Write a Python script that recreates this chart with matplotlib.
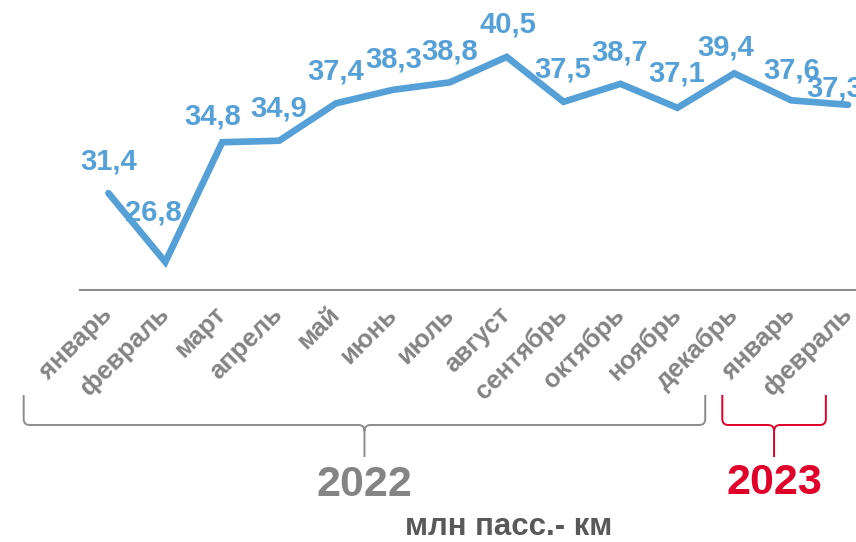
import matplotlib
matplotlib.use("Agg")
import matplotlib.pyplot as plt
from matplotlib.path import Path
from matplotlib.patches import PathPatch
from matplotlib.transforms import blended_transform_factory

plt.rcParams['font.family'] = ['Liberation Sans', 'DejaVu Sans']

months = ["январь", "февраль", "март", "апрель", "май", "июнь", "июль",
          "август", "сентябрь", "октябрь", "ноябрь", "декабрь",
          "январь", "февраль"]
values = [31.4, 26.8, 34.8, 34.9, 37.4, 38.3, 38.8, 40.5, 37.5, 38.7,
          37.1, 39.4, 37.6, 37.3]
labels = ["31,4", "26,8", "34,8", "34,9", "37,4", "38,3", "38,8", "40,5",
          "37,5", "38,7", "37,1", "39,4", "37,6", "37,3"]
years = ["2022", "2023"]
unit = "млн пасс.- км"

# label offsets in pixels (dx, dy)
offsets = [(0, 24), (-12, 42), (-10, 18), (0, 24), (0, 24), (1, 22), (0, 23),
           (1, 24), (-1, 24), (-1, 23), (-1, 26), (-9, 18), (0, 22), (-13, 8)]

BLUE = "#56A0D8"
GRAY = "#848484"
RED = "#E0002A"

W, H = 856, 542
fig = plt.figure(figsize=(W / 100, H / 100), dpi=100)
ax = fig.add_axes([80 / W, (H - 290) / H, (W - 80) / W, 290 / H])

x = list(range(len(values)))
ax.plot(x, values, color=BLUE, lw=4.8, solid_capstyle='round',
        solid_joinstyle='miter', clip_on=False)
ax.set_xlim(-0.5, 13.14)
ax.set_ylim(24.93, 44.3)

for xi, v, lab, (dx, dy) in zip(x, values, labels, offsets):
    ax.annotate(lab, (xi, v), xytext=(dx * 0.72, dy * 0.72),
                textcoords='offset points', ha='center', va='baseline',
                color=BLUE, fontsize=21, fontweight='bold',
                annotation_clip=False)

for s in ['top', 'right', 'left']:
    ax.spines[s].set_visible(False)
ax.spines['bottom'].set_color("#8C8C8C")
ax.spines['bottom'].set_linewidth(1.5)
ax.set_yticks([])
ax.set_xticks(x)
ax.set_xticklabels(months, rotation=45, ha='right', va='center',
                   rotation_mode='anchor', fontsize=18.5, fontweight='bold',
                   color=GRAY)
ax.tick_params(axis='x', length=0, pad=15)

# braces
tr = blended_transform_factory(ax.transData, fig.transFigure)

def brace(xl, xr, color, ytop=395, ymid=425, ybot=457, r=6):
    xm = (xl + xr) / 2
    px = 1 / 56.9  # one pixel in data units
    def fy(p):
        return 1 - p / H
    verts = [
        (xl, fy(ytop)), (xl, fy(ymid - r)), (xl, fy(ymid)), (xl + r * px, fy(ymid)),
        (xm - r * px, fy(ymid)), (xm, fy(ymid)), (xm, fy(ymid + r)),
        (xm, fy(ybot)),
        (xm, fy(ymid + r)), (xm, fy(ymid)), (xm + r * px, fy(ymid)),
        (xr - r * px, fy(ymid)), (xr, fy(ymid)), (xr, fy(ymid - r)),
        (xr, fy(ytop)),
    ]
    codes = [Path.MOVETO, Path.LINETO, Path.CURVE3, Path.CURVE3,
             Path.LINETO, Path.CURVE3, Path.CURVE3,
             Path.LINETO,
             Path.MOVETO, Path.CURVE3, Path.CURVE3,
             Path.LINETO, Path.CURVE3, Path.CURVE3,
             Path.LINETO]
    p = PathPatch(Path(verts, codes), transform=tr, fill=False,
                  edgecolor=color, lw=1.4, clip_on=False)
    fig.add_artist(p)
    return xm

xm1 = brace(-1.49, 10.49, "#8C8C8C")
xm2 = brace(10.79, 12.61, RED)

ax.text(xm1, 1 - 496 / H, years[0], transform=tr, ha='center', va='baseline',
        fontsize=31, fontweight='bold', color=GRAY)
ax.text(xm2, 1 - 494 / H, years[1], transform=tr, ha='center', va='baseline',
        fontsize=31, fontweight='bold', color=RED)
fig.text(509 / W, 1 - 535 / H, unit, ha='center', va='baseline',
         fontsize=22.5, fontweight='bold', color="#595959")

fig.savefig("out.png", dpi=100)
